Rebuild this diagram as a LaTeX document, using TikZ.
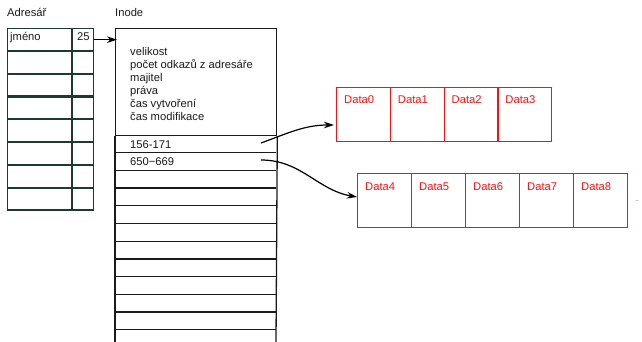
\documentclass[tikz,border=0pt]{standalone}
\usepackage{fontspec}
\setmainfont{Liberation Sans}
\usetikzlibrary{arrows.meta,calc}
\definecolor{dirc}{HTML}{1E3A30}
\definecolor{txt}{HTML}{1A1A1A}
\definecolor{dred}{HTML}{FF1010}
\tikzset{
  every node/.style={font=\fontsize{11.2}{13}\selectfont, text=txt, inner sep=0pt},
  dirrow/.style={draw=dirc, line width=1.3pt, minimum width=86pt, minimum height=22pt, anchor=north west},
  dcell/.style={draw=dred, line width=1.3pt, minimum width=53.8pt, minimum height=54pt, anchor=north west},
  dlabel/.style={text=dred, anchor=base west},
  itext/.style={anchor=base west},
  arr/.style={-{Stealth[length=10pt,width=6.5pt]}, line width=1.2pt, black},
  iline/.style={line width=1.3pt, draw=txt}
}
\begin{document}
\begin{tikzpicture}[x=1pt,y=-1pt]
\useasboundingbox (0,0) rectangle (642,342);
% titles
\node[itext] (tdir) at (7,17) {Adresář};
\node[itext] (tino) at (115,17) {Inode};
% directory rows
\foreach \i in {1,...,8}{
  \node[dirrow] (r\i) at (7,{28+22.75*(\i-1)}) {};
  \draw[dirc, line width=1.3pt] ($(r\i.north west)+(65,0)$) -- ($(r\i.south west)+(65,0)$);
}
\node[itext] (jm) at (10,41) {jméno};
\node[itext] (n25) at (77,41) {25};
% inode
\node[draw=txt, line width=1.3pt, minimum width=161pt, minimum height=107pt, anchor=north west] (inode) at (115,28) {};
\draw[iline] (inode.south west) -- (115,342);
\draw[iline] (inode.south east) -- (276,342);
\foreach \k in {1,...,11}{
  \draw[iline] (115,{135+17.7*\k}) -- (276,{135+17.7*\k});
}
\foreach \t [count=\j from 0] in {velikost,počet odkazů z adresáře,majitel,práva,čas vytvoření,čas modifikace}{
  \node[itext] at (130,{56+12.9*\j}) {\t};
}
\node[itext] (a1) at (130,148) {156-171};
\node[itext] (a2) at (130,165) {650−669};
\coordinate (p1) at (261,143);
\coordinate (p2) at (261,160);
% data blocks
\foreach \i in {0,...,3}{
  \node[dcell] (d\i) at ({336+53.75*\i},87) {};
  \node[dlabel] at ($(d\i.north west)+(8,17)$) {Data\i};
}
\foreach \i [evaluate=\i as \n using int(\i+4)] in {0,...,4}{
  \node[dcell] (d\n) at ({357+54*\i},173) {};
  \node[dlabel] at ($(d\n.north west)+(8,17)$) {Data\n};
}
\node[font=\fontsize{6}{7}\selectfont] (dots) at (637,201) {..};
% arrows
\draw[arr] (r1.east) -- ($(inode.west |- r1.east)+(2,0)$);
\coordinate (e1) at ($(d0.west |- 0,125)+(-2,0)$);
\coordinate (e2) at (d4.west |- 0,197);
\draw[arr] (p1) to[out=20,in=180] (e1);
\draw[arr] (p2) to[out=0,in=170] (e2);
\end{tikzpicture}
\end{document}
